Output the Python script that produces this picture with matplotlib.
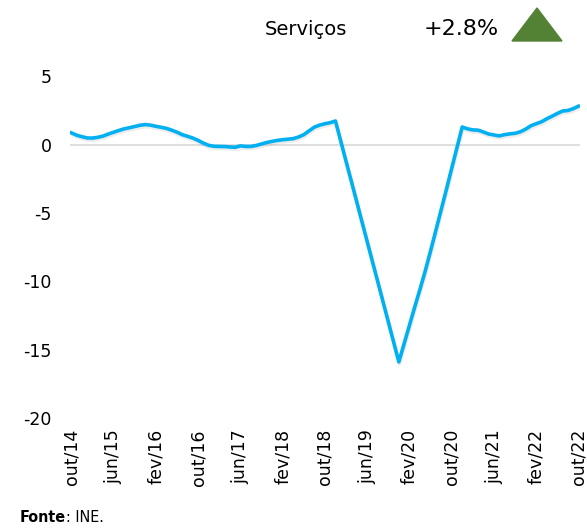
import numpy as np
import matplotlib.pyplot as plt
import matplotlib.patheffects as pe
from matplotlib.patches import Polygon

# meses: out/14 .. out/22 (mensal)
meses = ['jan', 'fev', 'mar', 'abr', 'mai', 'jun', 'jul', 'ago', 'set', 'out', 'nov', 'dez']
datas = [f'{meses[(9 + i) % 12]}/{14 + (9 + i) // 12}' for i in range(97)]

servicos = [0.85, 0.68, 0.57, 0.48, 0.47, 0.53, 0.62, 0.77, 0.90, 1.03,
            1.15, 1.23, 1.32, 1.41, 1.46, 1.42, 1.33, 1.26, 1.18, 1.05,
            0.90, 0.72, 0.60, 0.47, 0.30, 0.10, -0.06, -0.13, -0.14, -0.15,
            -0.18, -0.20, -0.10, -0.14, -0.14, -0.07, 0.04, 0.15, 0.23, 0.30,
            0.35, 0.39, 0.43, 0.55, 0.72, 1.00, 1.27, 1.42, 1.52, 1.60,
            1.72, 0.25, -1.22, -2.68, -4.15, -5.62, -7.09, -8.56, -10.02, -11.49,
            -12.96, -14.43, -15.90, -14.57, -13.24, -11.90, -10.60, -9.25, -7.80, -6.30,
            -4.80, -3.30, -1.76, -0.24, 1.28, 1.15, 1.07, 1.05, 0.92, 0.77,
            0.70, 0.63, 0.72, 0.78, 0.82, 0.93, 1.12, 1.37, 1.52, 1.66,
            1.88, 2.07, 2.27, 2.45, 2.49, 2.62, 2.80]

rotulos_y = [5, 0, -5, -10, -15, -20]
titulo = 'Serviços'
variacao = '+2.8%'

fig = plt.figure(figsize=(5.87, 5.29), dpi=100)
ax = fig.add_axes([0.119, 0.21, 0.869, 0.646])

# linha do zero + serie com sombra suave
x = np.arange(len(servicos))
ax.axhline(0, color='#D9D9D9', lw=1.2, zorder=1)
ax.plot(x, servicos, color='#00B0F0', lw=2.6, solid_joinstyle='round', zorder=3,
        path_effects=[pe.SimpleLineShadow(offset=(0.5, -1.5), shadow_color='gray', alpha=0.15, rho=0.6),
                      pe.Normal()])

ax.set_xlim(-0.3, 96.3)
ax.set_ylim(-20, 5)
ax.set_yticks(rotulos_y)
ax.set_yticklabels([str(v) for v in rotulos_y], fontsize=12.5)
ticks_x = list(range(0, 97, 8))
ax.set_xticks(ticks_x)
ax.set_xticklabels([datas[i] for i in ticks_x], rotation=90, fontsize=12.5)
ax.tick_params(length=0)
ax.tick_params(axis='y', pad=13)
ax.tick_params(axis='x', pad=8)
for s in ax.spines.values():
    s.set_visible(False)

# cabecalho: titulo, variacao e triangulo verde
fig.text(0.522, 0.945, titulo, fontsize=14, ha='center', va='center')
fig.text(0.785, 0.945, variacao, fontsize=16, ha='center', va='center')
tri = Polygon([[512 / 587, 1 - 41 / 529], [562 / 587, 1 - 41 / 529], [537 / 587, 1 - 8 / 529]],
              closed=True, transform=fig.transFigure, color='#548235')
fig.patches.append(tri)

# fonte
fonte = fig.text(0.034, 0.022, 'Fonte', fontsize=11.5, fontweight='bold',
                 fontstretch='condensed', va='center')
ax.annotate(': INE.', xy=(1, 0.5), xycoords=fonte, va='center', ha='left',
            fontsize=11.5, fontstretch='condensed', annotation_clip=False)

fig.savefig('out.png', dpi=100)
